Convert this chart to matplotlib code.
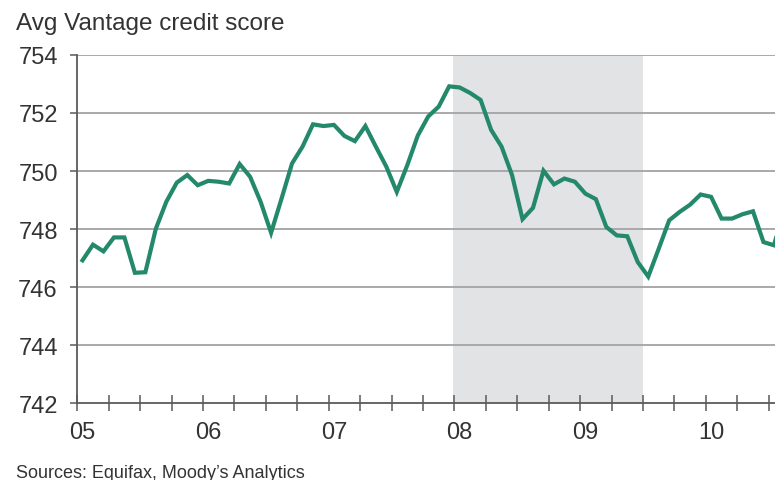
import numpy as np
import matplotlib
matplotlib.use("Agg")
import matplotlib.pyplot as plt

plt.rcParams['font.family'] = ['Liberation Sans', 'DejaVu Sans']

# Monthly average Vantage score, Jan 2005 onward
start_year = 2005
scores = [
    746.92, 747.46, 747.23, 747.71, 747.71, 746.49, 746.51, 748.01, 748.94, 749.60, 749.86, 749.51,
    749.66, 749.63, 749.57, 750.24, 749.80, 748.94, 747.87, 749.05, 750.26, 750.84, 751.61, 751.55,
    751.59, 751.21, 751.03, 751.55, 750.84, 750.15, 749.28, 750.20, 751.22, 751.88, 752.22, 752.92,
    752.88, 752.69, 752.45, 751.42, 750.84, 749.86, 748.34, 748.73, 750.01, 749.54, 749.74, 749.63,
    749.22, 749.03, 748.07, 747.78, 747.75, 746.86, 746.36, 747.32, 748.30, 748.59, 748.84, 749.19,
    749.11, 748.36, 748.36, 748.51, 748.61, 747.55, 747.44, 748.70,
]
year_labels = ['05', '06', '07', '08', '09', '10']
recession = (2007.99, 2009.5)
y_ticks = [742, 744, 746, 748, 750, 752, 754]

months = np.arange(len(scores))
x = start_year + (months + 0.5) / 12.0

fig = plt.figure(figsize=(7.75, 4.81), dpi=100)
ax = fig.add_axes([0.0997, 0.160, 0.9003, 0.7236])

ax.axvspan(recession[0], recession[1], color='#e2e3e5', lw=0, zorder=0)
for yv in y_ticks[1:]:
    ax.axhline(yv, color='#a3a3a3', lw=1.3, zorder=1)

ax.plot(x, scores, color='#23896a', lw=3.0, solid_joinstyle='miter', zorder=3)

ax.set_xlim(2005, 2010.55)
ax.set_ylim(742, 754)

for side in ['top', 'right']:
    ax.spines[side].set_visible(False)
for side in ['left', 'bottom']:
    ax.spines[side].set_color('#5a5a5a')
    ax.spines[side].set_linewidth(1.3)

ax.set_yticks(y_ticks)
ax.set_yticklabels([str(v) for v in y_ticks])
ax.tick_params(axis='y', direction='out', length=5, width=1.1, color='#5a5a5a',
               pad=9, labelsize=17, labelcolor='#333333')

# quarterly ticks, year labels sit over the January point
ax.set_xticks(np.arange(2005, 2010.6, 0.25))
ax.set_xticklabels([])
ax.tick_params(axis='x', which='major', direction='inout', length=11, width=1.1, color='#5a5a5a')
ax.set_xticks([start_year + i + 0.5 / 12 for i in range(len(year_labels))], minor=True)
ax.set_xticklabels(year_labels, minor=True)
ax.tick_params(axis='x', which='minor', length=0, pad=13, labelsize=17, labelcolor='#333333')

fig.text(0.021, 0.9376, 'Avg Vantage credit score', fontsize=17.5, color='#333333', va='baseline')
fig.text(0.020, 0.007, 'Sources: Equifax, Moody\u2019s Analytics', fontsize=13, color='#333333', va='baseline')

fig.savefig('out.png', dpi=100)
